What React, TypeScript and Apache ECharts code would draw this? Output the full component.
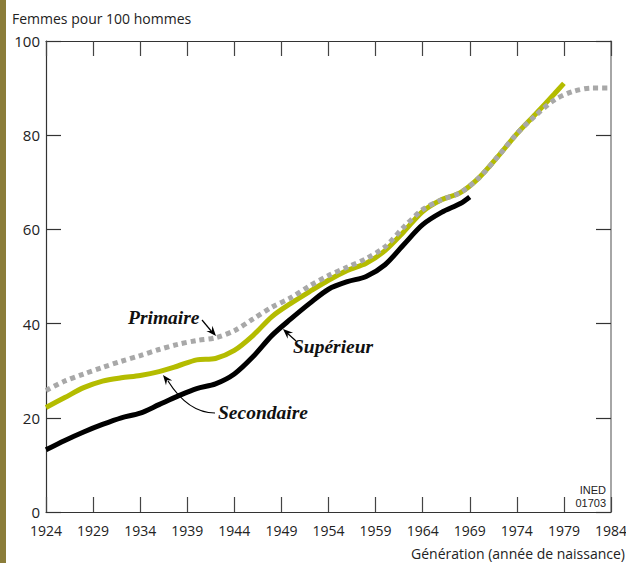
import React, { useEffect, useRef } from "react";
import * as echarts from "echarts";

const BASE_YEAR = 1924;
const xTickYears = [1924, 1929, 1934, 1939, 1944, 1949, 1954, 1959, 1964, 1969, 1974, 1979, 1984];
const yTicks = [0, 20, 40, 60, 80, 100];

const secondaireYears = [1924, 1926, 1928, 1930, 1932, 1934, 1936, 1938, 1940, 1942, 1944, 1946, 1948, 1950, 1952, 1954, 1956, 1958, 1960, 1962, 1964, 1966, 1968, 1969];
const secondaireValues = [13.2, 15.2, 17.0, 18.6, 20.0, 21.0, 22.8, 24.6, 26.2, 27.2, 29.3, 33.0, 37.5, 41.0, 44.3, 47.3, 48.9, 50.0, 52.5, 56.8, 61.0, 63.6, 65.5, 66.9];

const superieurYears = [1924, 1926, 1928, 1930, 1932, 1934, 1936, 1938, 1940, 1942, 1944, 1946, 1948, 1950, 1952, 1954, 1956, 1958, 1960, 1962, 1964, 1966, 1968, 1970, 1972, 1974, 1976, 1978, 1979];
const superieurValues = [22.2, 24.3, 26.4, 27.8, 28.5, 29.0, 29.8, 31.0, 32.3, 32.6, 34.3, 37.5, 41.5, 44.3, 46.8, 49.2, 51.3, 52.8, 55.5, 59.5, 63.8, 66.3, 67.8, 71.0, 75.5, 80.3, 84.5, 88.8, 91.0];

const primaireYears = [1924, 1926, 1928, 1930, 1932, 1934, 1936, 1938, 1940, 1942, 1944, 1946, 1948, 1950, 1952, 1954, 1956, 1958, 1960, 1962, 1964, 1966, 1968, 1970, 1972, 1974, 1976, 1978, 1980, 1982, 1984];
const primaireValues = [25.8, 27.8, 29.3, 30.7, 32.0, 33.2, 34.5, 35.6, 36.4, 37.0, 38.5, 41.0, 43.5, 45.5, 48.0, 50.2, 52.0, 53.8, 56.3, 60.5, 64.2, 66.3, 67.8, 71.0, 75.5, 80.3, 84.2, 87.5, 89.3, 90.0, 90.0];

const toPairs = (years: number[], vals: number[]) => years.map((y, i) => [y - BASE_YEAR, vals[i]]);

function arrowHead(tipX: number, tipY: number, fromX: number, fromY: number, len = 10, half = 4) {
  const dx = tipX - fromX;
  const dy = tipY - fromY;
  const d = Math.sqrt(dx * dx + dy * dy) || 1;
  const ux = dx / d;
  const uy = dy / d;
  const bx = tipX - ux * len;
  const by = tipY - uy * len;
  const px = -uy;
  const py = ux;
  const nx = tipX - ux * len * 0.65;
  const ny = tipY - uy * len * 0.65;
  return {
    type: "polygon",
    shape: {
      points: [
        [tipX, tipY],
        [bx + px * half, by + py * half],
        [nx, ny],
        [bx - px * half, by - py * half],
      ],
    },
    style: { fill: "#000" },
    z: 100,
  };
}

const annFont = "bold italic 19.5px 'Liberation Serif', 'DejaVu Serif', serif";
const sansFamily = "'Open Sans', 'Noto Sans', 'Liberation Sans', sans-serif";

export default function App() {
  const ref = useRef<HTMLDivElement>(null);

  useEffect(() => {
    document.body.style.margin = "0";
    if (!ref.current) return;
    const chart = echarts.init(ref.current, null, { renderer: "svg" });
    const xMax = 1984 - BASE_YEAR;
    const axisCommonX = {
      type: "value",
      min: 0,
      max: xMax,
      interval: 5,
      splitLine: { show: false },
    };
    const axisCommonY = {
      type: "value",
      min: 0,
      max: 100,
      interval: 20,
      splitLine: { show: false },
    };
    const option: any = {
      animation: false,
      backgroundColor: "#fff",
      title: {
        text: "Femmes pour 100 hommes",
        left: 12,
        top: 11,
        padding: 0,
        textStyle: { fontSize: 14, fontWeight: "normal", color: "#222", fontFamily: sansFamily },
      },
      grid: { left: 46, right: 15, top: 41, bottom: 51, containLabel: false, outerBoundsMode: "none" },
      xAxis: [
        {
          ...axisCommonX,
          position: "bottom",
          axisLine: { show: true, onZero: false, lineStyle: { color: "#333", width: 1.2 } },
          axisTick: { show: true, inside: true, length: 15, lineStyle: { color: "#444", width: 1.2 } },
          axisLabel: {
            show: true,
            margin: 11,
            fontSize: 14,
            color: "#222",
            fontFamily: sansFamily,
            formatter: (v: number) => String(v + BASE_YEAR),
          },
        },
        {
          ...axisCommonX,
          position: "top",
          axisLine: { show: true, onZero: false, lineStyle: { color: "#333", width: 1.2 } },
          axisTick: { show: true, inside: true, length: 15, lineStyle: { color: "#444", width: 1.2 } },
          axisLabel: { show: false },
        },
      ],
      yAxis: [
        {
          ...axisCommonY,
          position: "left",
          axisLine: { show: true, onZero: false, lineStyle: { color: "#333", width: 1.2 } },
          axisTick: { show: true, inside: true, length: 15, lineStyle: { color: "#333", width: 1.2 } },
          axisLabel: { show: true, margin: 6, fontSize: 15, color: "#222", fontFamily: sansFamily, verticalAlign: "middle" },
        },
        {
          ...axisCommonY,
          position: "right",
          axisLine: { show: true, onZero: false, lineStyle: { color: "#888", width: 1.5 } },
          axisTick: { show: true, inside: true, length: 15, lineStyle: { color: "#333", width: 1.2 } },
          axisLabel: { show: false },
        },
      ],
      series: [
        {
          name: "Supérieur",
          type: "line",
          data: toPairs(superieurYears, superieurValues),
          smooth: 0.3,
          showSymbol: false,
          lineStyle: { color: "#b4bc00", width: 5 },
          z: 2,
        },
        {
          name: "Secondaire",
          type: "line",
          data: toPairs(secondaireYears, secondaireValues),
          smooth: 0.3,
          showSymbol: false,
          lineStyle: { color: "#000", width: 5 },
          z: 3,
        },
        {
          name: "Primaire",
          type: "line",
          data: toPairs(primaireYears, primaireValues),
          smooth: 0.3,
          showSymbol: false,
          lineStyle: { color: "#a8a8a8", width: 5, type: [5, 4] },
          z: 4,
        },
      ],
      graphic: [
        { type: "rect", shape: { x: 0, y: 0, width: 6, height: 563 }, style: { fill: "#8b7d3a" }, z: 100 },
        {
          type: "text",
          x: 625,
          y: 553,
          style: {
            text: "Génération (année de naissance)",
            textAlign: "right",
            textVerticalAlign: "middle",
            fontSize: 14,
            fontFamily: sansFamily,
            fill: "#222",
          },
        },
        {
          type: "text",
          x: 606,
          y: 490,
          style: { text: "INED", textAlign: "right", textVerticalAlign: "middle", fontSize: 11, fontFamily: "'Liberation Sans', sans-serif", fill: "#222" },
        },
        {
          type: "text",
          x: 606,
          y: 503,
          style: { text: "01703", textAlign: "right", textVerticalAlign: "middle", fontSize: 11, fontFamily: "'Liberation Sans', sans-serif", fill: "#222" },
        },
        {
          type: "text",
          x: 128,
          y: 317,
          style: { text: "Primaire", textAlign: "left", textVerticalAlign: "middle", font: annFont, fill: "#111" },
          z: 100,
        },
        { type: "line", shape: { x1: 202, y1: 320, x2: 212, y2: 332 }, style: { stroke: "#000", lineWidth: 1.2 }, z: 100 },
        arrowHead(216, 336, 202, 320),
        {
          type: "text",
          x: 293,
          y: 346,
          style: { text: "Supérieur", textAlign: "left", textVerticalAlign: "middle", font: annFont, fill: "#111" },
          z: 100,
        },
        { type: "line", shape: { x1: 296, y1: 341, x2: 286, y2: 332 }, style: { stroke: "#000", lineWidth: 1.2 }, z: 100 },
        arrowHead(283, 329, 296, 341),
        {
          type: "text",
          x: 218,
          y: 412,
          style: { text: "Secondaire", textAlign: "left", textVerticalAlign: "middle", font: annFont, fill: "#111" },
          z: 100,
        },
        {
          type: "bezierCurve",
          shape: { x1: 215, y1: 413, cpx1: 196, cpy1: 413, cpx2: 180, cpy2: 400, x2: 168, y2: 381 },
          style: { stroke: "#000", lineWidth: 1.2, fill: null },
          z: 100,
        },
        arrowHead(163, 375, 170, 384),
      ],
    };
    chart.setOption(option);
    return () => chart.dispose();
  }, []);

  return <div ref={ref} style={{ width: 626, height: 563 }} />;
}
